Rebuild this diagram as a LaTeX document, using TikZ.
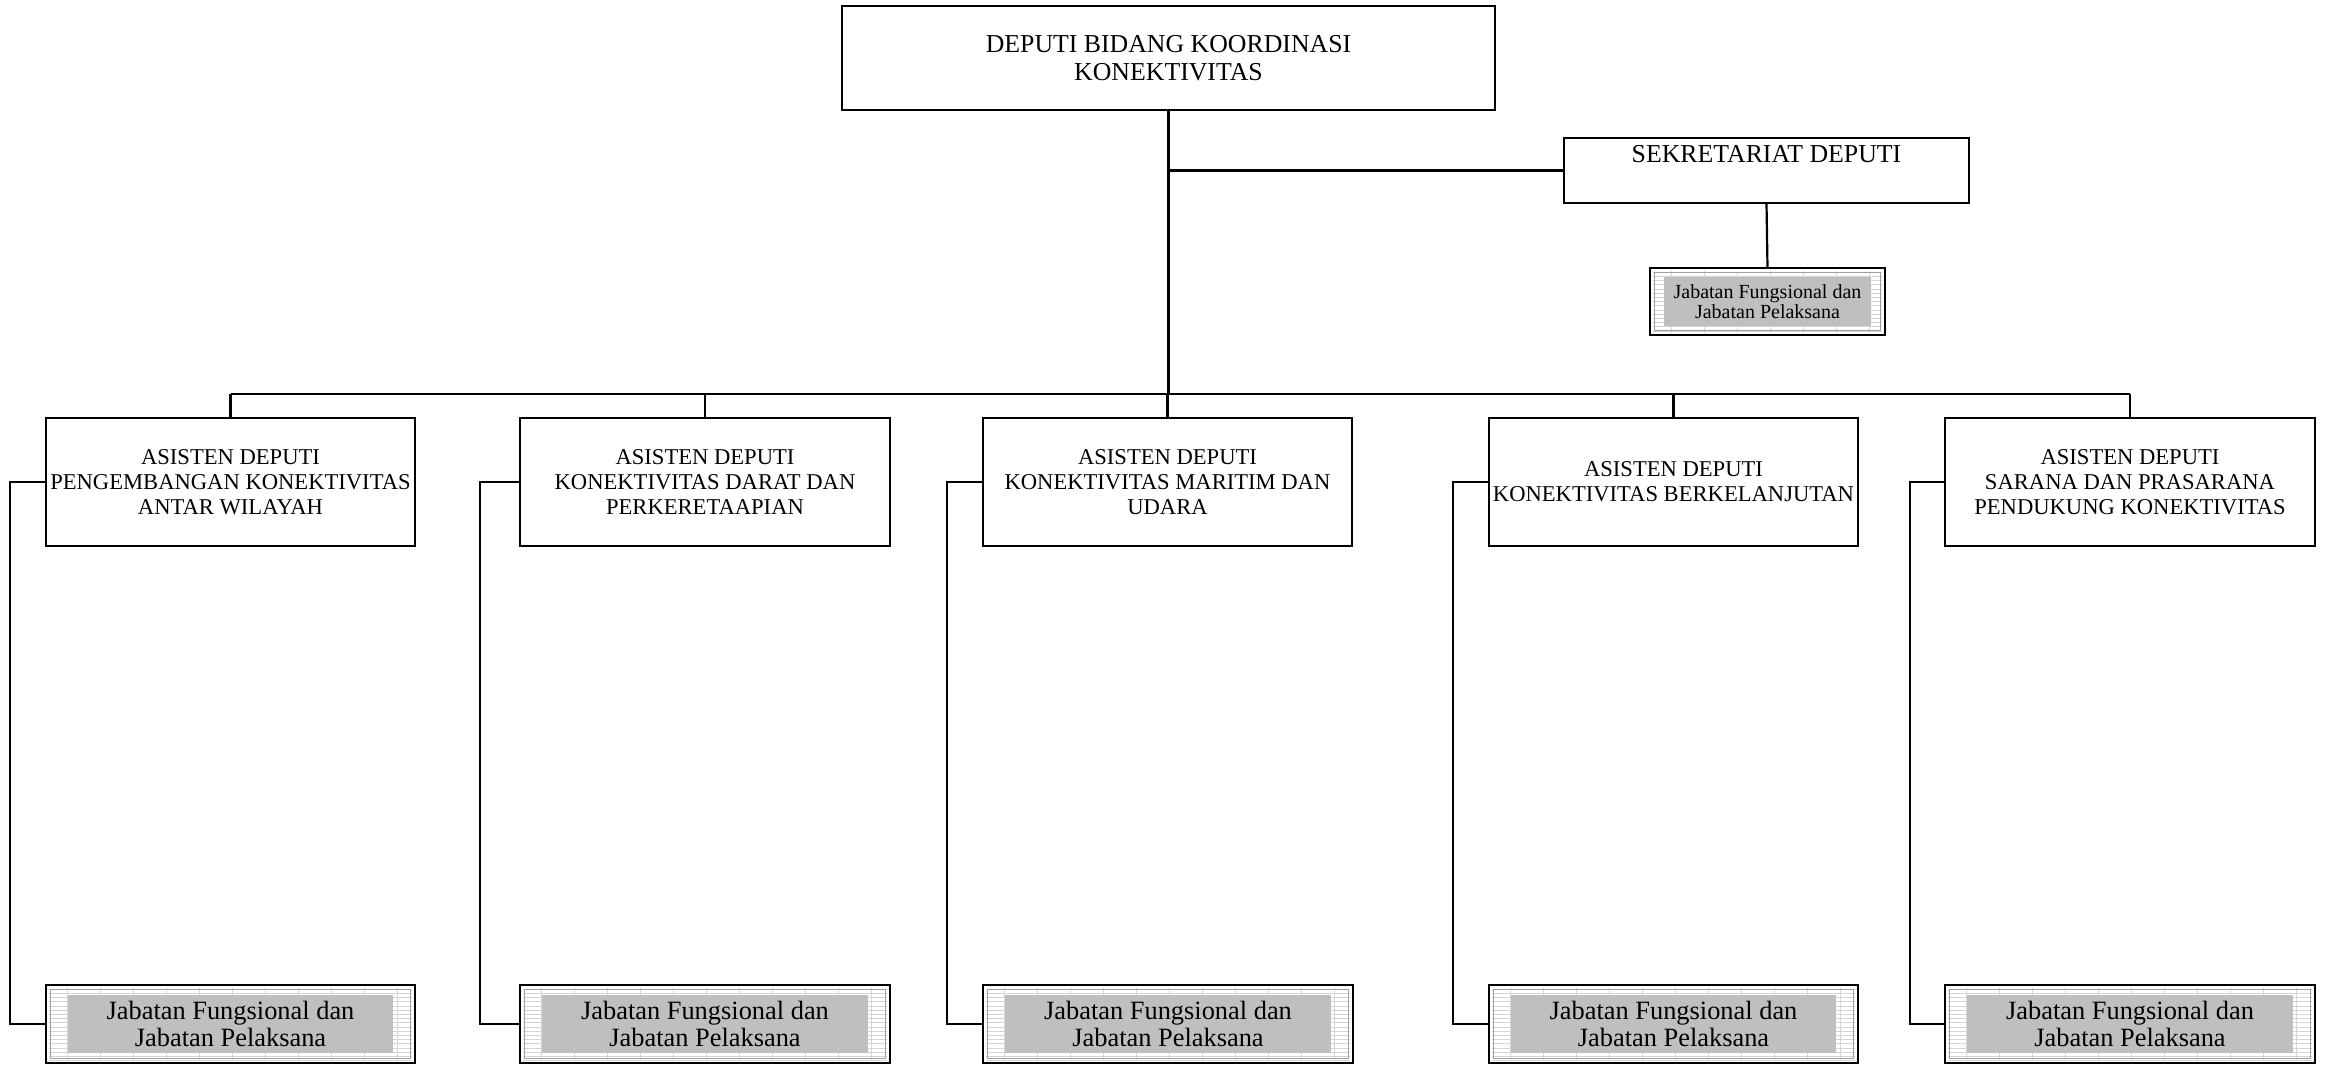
\documentclass[tikz,border=0pt]{standalone}
\usepackage{fontspec}
\setmainfont{Liberation Serif}
\usetikzlibrary{calc}
\definecolor{jabgrey}{RGB}{191,191,191}
\definecolor{gridgrey}{RGB}{212,212,212}
\tikzset{
  box/.style={draw, rectangle, line width=1.2pt, inner sep=0pt, outer sep=0pt, align=center},
  topfont/.style={font=\fontsize{12.9}{14}\selectfont},
  asfont/.style={font=\fontsize{11.3}{12.5}\selectfont},
  jabfont/.style={font=\fontsize{13.2}{13.2}\selectfont},
  sjfont/.style={font=\fontsize{10}{9.7}\selectfont},
  conn/.style={line width=1.1pt},
  gridline/.style={draw=gridgrey, line width=0.35pt},
}
\newcommand\jabbox[9]{%
  \node[box, draw=none, minimum width=#4*0.5pt, minimum height=#5*0.5pt] (#1) at (#2,#3) {};
  \begin{scope}
    \clip ($(#1.south west)+(1.5pt,1.5pt)$) rectangle ($(#1.north east)+(-1.5pt,-1.5pt)$);
    \foreach \k in {1,...,40} {\draw[gridline] ($(#1.north west)+(\k*16.5pt-6pt,0pt)$) -- ++(0pt,-60pt);}
    \foreach \k in {1,...,24} {\draw[gridline] ($(#1.north west)+(0pt,-\k*2.1pt)$) -- ++(300pt,0pt);}
  \end{scope}
  \draw[draw=gray!75, line width=0.4pt] ($(#1.south west)+(2.2pt,2.2pt)$) rectangle ($(#1.north east)+(-2.2pt,-2.2pt)$);
  \node[fill=jabgrey, inner sep=0pt, outer sep=0pt, align=center, #8,
        minimum width=(#4-2*#6)*0.5pt, minimum height=(#5-2*#7)*0.5pt] at (#1) {#9};
  \draw[line width=1.2pt] (#1.south west) rectangle (#1.north east);
}
\begin{document}
\begin{tikzpicture}[x=0.5pt, y=-0.5pt]
\useasboundingbox (0,0) rectangle (2325,1065);
\fill[white] (0,0) rectangle (2325,1065);

% top
\node[box, topfont, minimum width=653*0.5pt, minimum height=104*0.5pt] (top) at (1168.5,58)
  {DEPUTI BIDANG KOORDINASI\\KONEKTIVITAS};

% sekretariat
\node[box, minimum width=405*0.5pt, minimum height=65*0.5pt] (sek) at (1766.5,170.5) {};
\node[topfont, inner sep=0pt] (sekt) at (1766.5,154) {SEKRETARIAT DEPUTI};
\jabbox{sj}{1767.5}{301.5}{235}{67}{14}{9}{sjfont}{Jabatan Fungsional dan\\Jabatan Pelaksana}

% asisten
\node[box, asfont, minimum width=369*0.5pt, minimum height=128*0.5pt] (a1) at (230.5,482)
  {ASISTEN DEPUTI\\PENGEMBANGAN KONEKTIVITAS\\ANTAR WILAYAH};
\node[box, asfont, minimum width=370*0.5pt, minimum height=128*0.5pt] (a2) at (705,482)
  {ASISTEN DEPUTI\\KONEKTIVITAS DARAT DAN\\PERKERETAAPIAN};
\node[box, asfont, minimum width=369*0.5pt, minimum height=128*0.5pt] (a3) at (1167.5,482)
  {ASISTEN DEPUTI\\KONEKTIVITAS MARITIM DAN\\UDARA};
\node[box, asfont, minimum width=369*0.5pt, minimum height=128*0.5pt] (a4) at (1673.5,482)
  {ASISTEN DEPUTI\\KONEKTIVITAS BERKELANJUTAN};
\node[box, asfont, minimum width=370*0.5pt, minimum height=128*0.5pt] (a5) at (2130,482)
  {ASISTEN DEPUTI\\SARANA DAN PRASARANA\\PENDUKUNG KONEKTIVITAS};

% jabatan
\jabbox{j1}{230.5}{1024}{369}{78}{22}{10}{jabfont}{Jabatan Fungsional dan\\Jabatan Pelaksana}
\jabbox{j2}{705}{1024}{370}{78}{22}{10}{jabfont}{Jabatan Fungsional dan\\Jabatan Pelaksana}
\jabbox{j3}{1168}{1024}{370}{78}{22}{10}{jabfont}{Jabatan Fungsional dan\\Jabatan Pelaksana}
\jabbox{j4}{1673.5}{1024}{369}{78}{22}{10}{jabfont}{Jabatan Fungsional dan\\Jabatan Pelaksana}
\jabbox{j5}{2130}{1024}{370}{78}{22}{10}{jabfont}{Jabatan Fungsional dan\\Jabatan Pelaksana}

% connectors
\coordinate (bus) at (0,394);
\draw[conn] (top.south) -- (top.south |- bus);
\draw[conn] (a1.north |- bus) -- (a5.north |- bus);
\foreach \i in {1,...,5} {\draw[conn] (a\i.north |- bus) -- (a\i.north);}
\draw[conn] (top.south |- sek.west) -- (sek.west);
\draw[conn] (sek.south) -- (sj.north);

\coordinate (c1) at (10,482);
\coordinate (c2) at (480,482);
\coordinate (c3) at (947,482);
\coordinate (c4) at (1453,482);
\coordinate (c5) at (1910,482);
\foreach \i in {1,...,5} {\draw[conn] (a\i.west) -- (c\i) |- (j\i.west);}
\end{tikzpicture}
\end{document}
